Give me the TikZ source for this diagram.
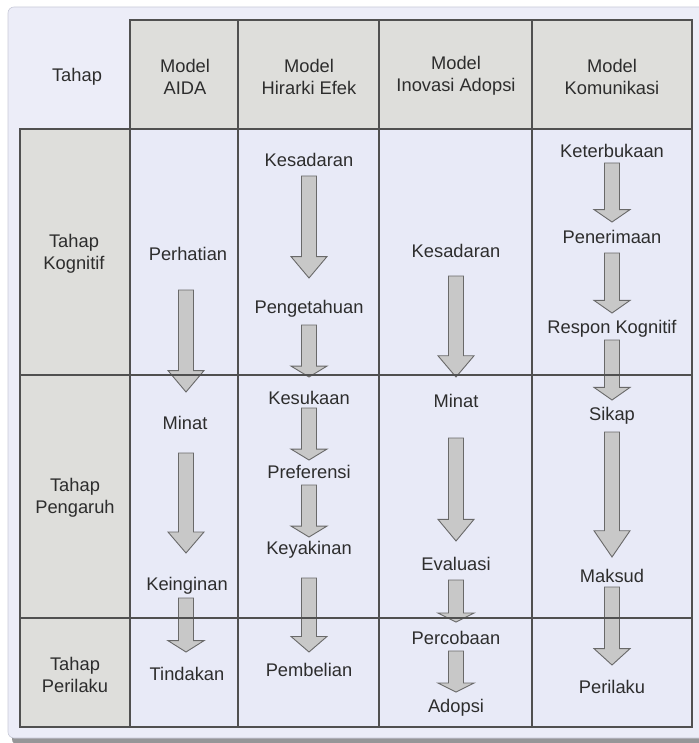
\documentclass[tikz,border=0pt]{standalone}
\usepackage{fontspec}
\setmainfont{Liberation Sans}
\usetikzlibrary{calc}

\definecolor{pagebg}{RGB}{236,237,248}
\definecolor{framebd}{RGB}{200,202,216}
\definecolor{shadowc}{RGB}{150,150,152}
\definecolor{cellbg}{RGB}{232,234,247}
\definecolor{headbg}{RGB}{222,222,219}
\definecolor{gridc}{RGB}{80,80,80}
\definecolor{arrowfill}{RGB}{200,200,200}
\definecolor{arrowedge}{RGB}{105,105,105}
\definecolor{txt}{RGB}{45,45,45}

% block arrow at column x, from y1 down to its tip at y2
\newcommand\blockarrow[3]{%
  \pgfmathsetmacro\headlen{max(9,0.21*(#3-#2))}%
  \draw[barrow] (#1-7.5,#2) -- (#1+7.5,#2) -- (#1+7.5,#3-\headlen)
    -- (#1+18,#3-\headlen) -- (#1,#3) -- (#1-18,#3-\headlen)
    -- (#1-7.5,#3-\headlen) -- cycle;}

\begin{document}
\begin{tikzpicture}[x=1pt,y=-1pt,
  lbl/.style={font=\fontsize{18.3}{22}\selectfont, text=txt, inner sep=0pt,
    anchor=base, align=center},
  barrow/.style={fill=arrowfill, draw=arrowedge, line width=0.9pt, line join=miter},
  gridline/.style={draw=gridc, line width=1.4pt, line cap=rect}]
\useasboundingbox (0,0) rectangle (698,743);

% panel with drop shadow
\fill[shadowc, rounded corners=6pt] (12,12) rectangle (712,745);
\fill[pagebg, draw=framebd, line width=0.6pt, rounded corners=6pt] (8,7) rectangle (708,738);

% cell backgrounds
\fill[headbg] (130,20) rectangle (692,129);
\fill[headbg] (20,129) rectangle (130,727);
\fill[cellbg] (130,129) rectangle (692,727);

% header row (two-line labels sit on the baseline of their last line)
\node[lbl] (hTahap) at (77,82) {Tahap};
\node[lbl] (hAIDA)  at (185,95) {Model\\AIDA};
\node[lbl] (hHE)    at (309,95) {Model\\Hirarki Efek};
\node[lbl] (hIA)    at (456,92) {Model\\Inovasi Adopsi};
\node[lbl] (hKom)   at (612,95) {Model\\Komunikasi};

% stage column
\node[lbl] (sKog) at (74,269) {Tahap\\Kognitif};
\node[lbl] (sPen) at (75,513) {Tahap\\Pengaruh};
\node[lbl] (sPer) at (75,692) {Tahap\\Perilaku};

% AIDA
\node[lbl] (a1) at (188,260) {Perhatian};
\node[lbl] (a2) at (185,429) {Minat};
\node[lbl] (a3) at (187,590) {Keinginan};
\node[lbl] (a4) at (187,680) {Tindakan};

% Hirarki Efek
\node[lbl] (h1) at (309,167) {Kesadaran};
\node[lbl] (h2) at (309,313) {Pengetahuan};
\node[lbl] (h3) at (309,404) {Kesukaan};
\node[lbl] (h4) at (309,478) {Preferensi};
\node[lbl] (h5) at (309,554) {Keyakinan};
\node[lbl] (h6) at (309,676) {Pembelian};

% Inovasi Adopsi
\node[lbl] (i1) at (456,257) {Kesadaran};
\node[lbl] (i2) at (456,407) {Minat};
\node[lbl] (i3) at (456,570) {Evaluasi};
\node[lbl] (i4) at (456,644) {Percobaan};
\node[lbl] (i5) at (456,712) {Adopsi};

% Komunikasi
\node[lbl] (k1) at (612,158) {Keterbukaan};
\node[lbl] (k2) at (612,243) {Penerimaan};
\node[lbl] (k3) at (612,333) {Respon Kognitif};
\node[lbl] (k4) at (612,420) {Sikap};
\node[lbl] (k5) at (612,582) {Maksud};
\node[lbl] (k6) at (612,693) {Perilaku};

% arrows: AIDA
\blockarrow{186}{290}{392}
\blockarrow{186}{453}{553}
\blockarrow{186}{598}{652}
% arrows: Hirarki Efek
\blockarrow{309}{176}{278}
\blockarrow{309}{325}{377}
\blockarrow{309}{408}{460}
\blockarrow{309}{485}{537}
\blockarrow{309}{578}{652}
% arrows: Inovasi Adopsi
\blockarrow{456}{276}{377}
\blockarrow{456}{438}{541}
\blockarrow{456}{580}{622}
\blockarrow{456}{651}{692}
% arrows: Komunikasi
\blockarrow{612}{163}{222}
\blockarrow{612}{253}{313}
\blockarrow{612}{340}{400}
\blockarrow{612}{432}{557}
\blockarrow{612}{587}{665}

% grid lines on top
\draw[gridline] (130,20) -- (692,20);
\draw[gridline] (20,129) -- (692,129);
\draw[gridline] (20,375) -- (692,375);
\draw[gridline] (20,618) -- (692,618);
\draw[gridline] (20,727) -- (692,727);
\draw[gridline] (20,129) -- (20,727);
\draw[gridline] (130,20) -- (130,727);
\draw[gridline] (238,20) -- (238,727);
\draw[gridline] (379,20) -- (379,727);
\draw[gridline] (532,20) -- (532,727);
\draw[gridline] (692,20) -- (692,727);
\end{tikzpicture}
\end{document}
